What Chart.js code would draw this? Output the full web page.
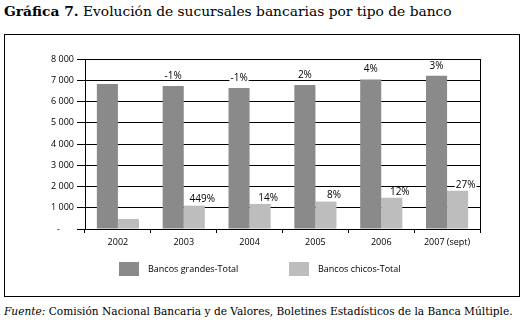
<!DOCTYPE html>
<html>
<head>
<meta charset="utf-8">
<script src="https://cdn.jsdelivr.net/npm/chart.js@4"></script>
<style>
  body { margin: 0; background: #fff; width: 526px; height: 324px; position: relative; overflow: hidden; }
  #title { position: absolute; left: 4px; top: 3px; font-family: "DejaVu Serif", serif; font-size: 13.8px; white-space: nowrap; color: #000; }
  #title b { font-weight: bold; }
  #frame { position: absolute; left: 4px; top: 34px; width: 514px; height: 261px; border: 1px solid #000; }
  #chartBox { position: absolute; left: 0; top: 0; width: 514px; height: 261px; }
  #legend { position: absolute; top: 227px; left: 0; width: 514px; font-family: "Open Sans", sans-serif; font-size: 9px; color: #000; }
  .item { position: absolute; top: 0; height: 14px; line-height: 14px; white-space: nowrap; }
  .swatch { position: absolute; left: 0; top: 0; width: 20px; height: 14px; }
  .item span { position: absolute; left: 29px; top: 0; }
  #source { position: absolute; left: 4px; top: 305px; font-family: "DejaVu Serif", serif; font-size: 10.6px; white-space: nowrap; color: #000; }
</style>
</head>
<body>
<div id="title"><b>Gráfica 7.</b> Evolución de sucursales bancarias por tipo de banco</div>
<div id="frame">
  <div id="chartBox"><canvas id="chart"></canvas></div>
  <div id="legend"></div>
</div>
<div id="source"><i>Fuente:</i> Comisión Nacional Bancaria y de Valores, Boletines Estadísticos de la Banca Múltiple.</div>
<script>
const years = ["2002", "2003", "2004", "2005", "2006", "2007 (sept)"];
const seriesNames = ["Bancos grandes-Total", "Bancos chicos-Total"];
const bancosGrandes = [6820, 6730, 6640, 6780, 7040, 7210];
const bancosChicos = [470, 1100, 1180, 1290, 1470, 1800];
const cambioGrandes = ["", "-1%", "-1%", "2%", "4%", "3%"];
const cambioChicos = ["", "449%", "14%", "8%", "12%", "27%"];
const yTicks = [0, 1000, 2000, 3000, 4000, 5000, 6000, 7000, 8000];

const colors = ["#8a8a8a", "#bdbdbd"];
const tickFont = { family: "Open Sans", size: 9 };

// legend built from the series names
const legendBox = document.getElementById("legend");
const legendLeft = [114, 284];
seriesNames.forEach((name, i) => {
  const item = document.createElement("div");
  item.className = "item";
  item.style.left = legendLeft[i] + "px";
  item.innerHTML = '<div class="swatch" style="background:' + colors[i] + '"></div><span>' + name + "</span>";
  legendBox.appendChild(item);
});

// percentage labels above the bars, with a small white box behind them
const barLabels = {
  id: "barLabels",
  afterDatasetsDraw(chart, args, opts) {
    const ctx = chart.ctx;
    ctx.save();
    ctx.font = "10px 'Open Sans'";
    ctx.textAlign = "center";
    ctx.textBaseline = "middle";
    chart.data.datasets.forEach((ds, i) => {
      const meta = chart.getDatasetMeta(i);
      const texts = opts.texts[i];
      meta.data.forEach((bar, j) => {
        if (!texts[j]) return;
        const x = bar.x + opts.dx[i];
        const y = bar.y - opts.dy[i];
        const w = ctx.measureText(texts[j]).width;
        ctx.fillStyle = "#fff";
        ctx.fillRect(x - w / 2 - 1, y - 4, w + 2, 8);
        ctx.fillStyle = "#000";
        ctx.fillText(texts[j], x, y);
      });
    });
    ctx.restore();
  },
};

new Chart(document.getElementById("chart"), {
  type: "bar",
  data: {
    labels: years,
    datasets: [
      { label: seriesNames[0], data: bancosGrandes, backgroundColor: colors[0], yAxisID: "y" },
      { label: seriesNames[1], data: bancosChicos, backgroundColor: colors[1], yAxisID: "y" },
    ],
  },
  options: {
    responsive: true,
    maintainAspectRatio: false,
    animation: false,
    categoryPercentage: 0.64,
    barPercentage: 1.0,
    layout: { padding: { left: 0, right: 0, top: 24, bottom: 39 } },
    scales: {
      x: {
        grid: { display: true, drawOnChartArea: false, offset: true, color: "#000", tickLength: 4 },
        border: { color: "#000" },
        ticks: { font: tickFont, color: "#000", padding: 4, maxRotation: 0 },
        afterFit: (scale) => { scale.height = 28; },
      },
      y: {
        min: 0,
        max: 8000,
        afterBuildTicks: (scale) => { scale.ticks = yTicks.map((v) => ({ value: v })); },
        grid: { color: "#000", tickLength: 8 },
        border: { color: "#000" },
        ticks: {
          font: tickFont,
          color: "#000",
          padding: 3,
          callback: (v) => (v === 0 ? "-      " : String(v).replace(/\B(?=(\d{3})+(?!\d))/g, " ")),
        },
        afterFit: (scale) => { scale.width = 80; },
      },
      y2: {
        position: "right",
        min: 0,
        max: 8000,
        grid: { display: false, drawOnChartArea: false, drawTicks: false },
        border: { display: true, color: "#000" },
        ticks: { display: false },
        afterFit: (scale) => { scale.width = 39; },
      },
    },
    plugins: {
      legend: { display: false },
      tooltip: { enabled: false },
      barLabels: {
        texts: [cambioGrandes, cambioChicos],
        dx: [0, 8],
        dy: [10, 6],
      },
    },
  },
  plugins: [barLabels],
});
</script>
</body>
</html>
